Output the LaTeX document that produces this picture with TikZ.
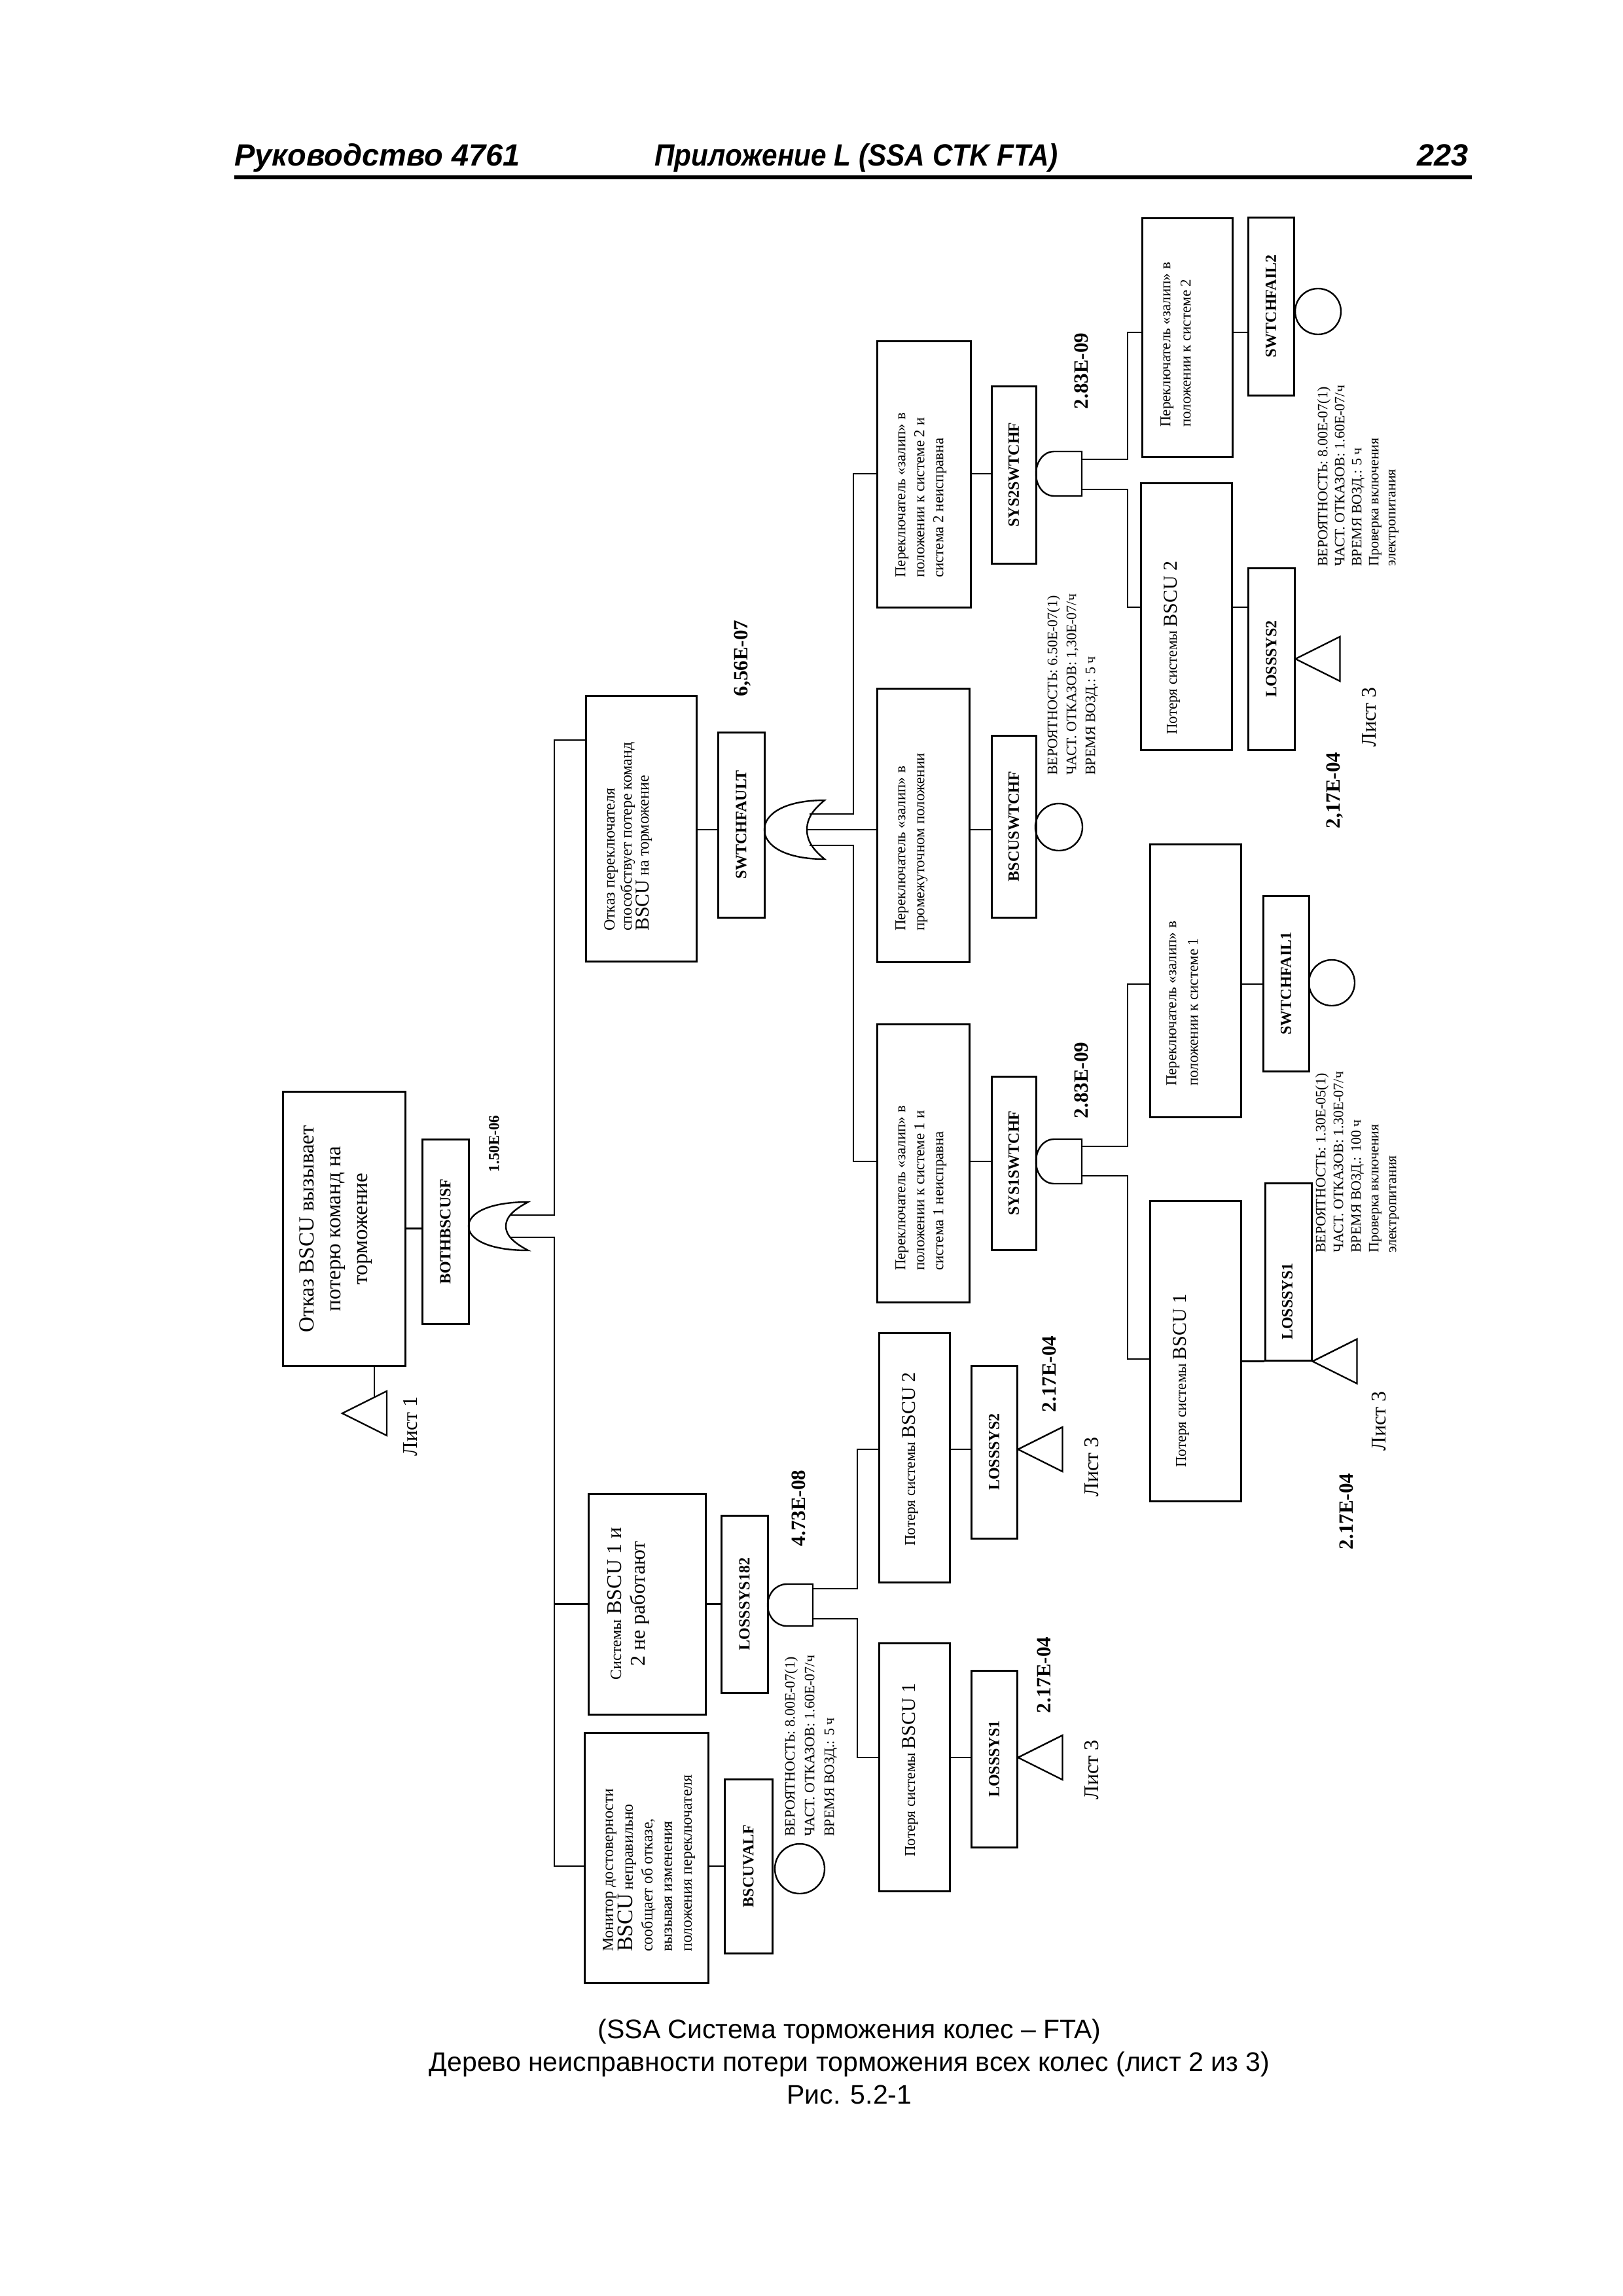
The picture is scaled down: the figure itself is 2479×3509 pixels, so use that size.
\documentclass[tikz,border=0pt]{standalone}
\usepackage{fontspec}
\setmainfont{Liberation Serif}
\newfontfamily\arialf{Liberation Sans}
\newfontfamily\arialn[FakeStretch=0.9]{Liberation Sans}
\newcommand\fsz[2]{\fontsize{#1}{#2}\selectfont}
\newcommand\bx[5]{\node[box,minimum width={(#4-#2)*1pt},minimum height={(#5-#3)*1pt}] (#1) at ({(#2+#4)/2},{(#3+#5)/2}) {};}
\newcommand\orgate[5]{%
 \draw[gt] (#1,#2) .. controls (#1,{#2-0.55*#4}) and ({#1+0.35*#3},{#2-#4}) .. ({#1+#3},{#2-#4})
   .. controls ({#1+#3-0.5*#5},{#2-0.75*#4}) and ({#1+#3-#5},{#2-0.45*#4}) .. ({#1+#3-#5},#2)
   .. controls ({#1+#3-#5},{#2+0.45*#4}) and ({#1+#3-0.5*#5},{#2+0.75*#4}) .. ({#1+#3},{#2+#4})
   .. controls ({#1+0.35*#3},{#2+#4}) and (#1,{#2+0.55*#4}) .. cycle;}
\newcommand\andgate[5]{%
 \draw[gt] (#3,{#2-#5}) -- ({#1+#4},{#2-#5}) arc[start angle=90,end angle=270,x radius=#4pt,y radius=#5pt] -- (#3,{#2+#5}) -- cycle;}
\newcommand\trans[1]{\draw[gt] (#1) -- ++(68,-34) -- ++(0,68) -- cycle;}
\begin{document}
\begin{tikzpicture}[x=1pt,y=-1pt,
  box/.style={draw,line width=3pt,inner sep=0pt,rectangle},
  ln/.style={line width=2.6pt},
  gt/.style={line width=2.4pt},
  lbl/.style={rotate=90,font=\fsz{24}{28}\bfseries,inner sep=0pt},
  txt/.style={rotate=90,font=\fsz{23}{29},align=left,inner sep=0pt,anchor=north west},
  prob/.style={rotate=90,font=\fsz{22}{28},align=left,inner sep=0pt,anchor=north west},
  val/.style={rotate=90,font=\fsz{31}{36}\bfseries,inner sep=0pt},
  sheet/.style={rotate=90,font=\fsz{32}{36},inner sep=0pt},
  evt/.style={draw,circle,line width=2.4pt,inner sep=0pt}]
\fill[white] (0,0) rectangle (2479,3509);
\useasboundingbox (0,0) rectangle (2479,3509);

% header
\node[anchor=base west,inner sep=0pt,font=\arialf\bfseries\itshape\fsz{47}{50}] (h1) at (358,253) {Руководство 4761};
\node[anchor=base west,inner sep=0pt,font=\arialn\bfseries\itshape\fsz{47}{50}] (h2) at (1000,253) {Приложение L (SSA CTK FTA)};
\node[anchor=base east,inner sep=0pt,font=\arialf\bfseries\itshape\fsz{47}{50}] (h3) at (2244,253) {223};
\coordinate (r1) at (358,271); \coordinate (r2) at (2249,271);
\draw[line width=6pt] (r1) -- (r2);

% boxes
\bx{TE}{432}{1668}{619}{2087}
\bx{BOTH}{645}{1741}{716}{2023}
\bx{SF}{895}{1063}{1064}{1469}
\bx{SWF}{1097}{1119}{1168}{1402}
\bx{S2}{1340}{521}{1483}{928}
\bx{S2G}{1515}{590}{1583}{861}
\bx{SW2}{1745}{333}{1883}{698}
\bx{SWF2}{1907}{332}{1977}{604}
\bx{LS2}{1743}{738}{1882}{1146}
\bx{LSY2R}{1907}{868}{1978}{1146}
\bx{SM}{1340}{1052}{1481}{1470}
\bx{BSW}{1515}{1124}{1583}{1402}
\bx{S1}{1340}{1565}{1481}{1990}
\bx{S1G}{1515}{1645}{1583}{1910}
\bx{SW1}{1757}{1290}{1896}{1707}
\bx{SWF1}{1930}{1369}{2000}{1637}
\bx{LS1}{1757}{1835}{1896}{2294}
\bx{LSY1R}{1933}{1808}{2004}{2079}
\bx{SY}{899}{2283}{1078}{2620}
\bx{L182}{1102}{2316}{1173}{2587}
\bx{LB2}{1343}{2037}{1451}{2418}
\bx{LSY2L}{1484}{2087}{1554}{2351}
\bx{LB1}{1343}{2511}{1451}{2890}
\bx{LSY1L}{1484}{2553}{1554}{2823}
\bx{MO}{893}{2648}{1082}{3030}
\bx{BVA}{1107}{2719}{1180}{2985}

% box texts
\node[rotate=90,align=center,inner sep=0pt,font=\fsz{33}{41}] (tTE) at (513,1878) {Отказ BSCU вызывает\\потерю команд на\\торможение};
\node[txt,font=\fsz{24}{26}] (tSF) at (923,1423) {Отказ переключателя\\способствует потере команд\\{\fsz{30}{26}BSCU} на торможение};
\node[txt] (tS2) at (1368,883) {Переключатель «залип» в\\положении к системе 2 и\\система 2 неисправна};
\node[txt] (tSM) at (1368,1423) {Переключатель «залип» в\\промежуточном положении};
\node[txt] (tS1) at (1368,1942) {Переключатель «залип» в\\положении к системе 1 и\\система 1 неисправна};
\node[txt,font=\fsz{23}{31}] (tSW2) at (1773,653) {Переключатель «залип» в\\положении к системе 2};
\node[txt,font=\fsz{23}{33}] (tSW1) at (1782,1660) {Переключатель «залип» в\\положении к системе 1};
\node[rotate=90,anchor=base,inner sep=0pt,font=\fsz{23}{28}] (tLS2) at (1798,990) {Потеря системы {\fsz{30}{30}BSCU 2}};
\node[rotate=90,anchor=base,inner sep=0pt,font=\fsz{23}{28}] (tLS1) at (1812,2110) {Потеря системы {\fsz{30}{30}BSCU 1}};
\node[rotate=90,anchor=base,inner sep=0pt,font=\fsz{23}{28}] (tLB2) at (1398,2230) {Потеря системы {\fsz{30}{30}BSCU 2}};
\node[rotate=90,anchor=base,inner sep=0pt,font=\fsz{23}{28}] (tLB1) at (1398,2705) {Потеря системы {\fsz{30}{30}BSCU 1}};
\node[rotate=90,align=center,inner sep=0pt,font=\fsz{32}{36}] (tSY) at (960,2451) {{\fsz{24}{36}Системы} BSCU 1 и\\2 не работают};
\node[txt,font=\fsz{24}{30}] (tMO) at (921,2983) {Монитор достоверности\\{\fsz{34}{30}BSCU} неправильно\\сообщает об отказе,\\вызывая изменения\\положения переключателя};

% labels
\node[lbl] at (BOTH) {BOTHBSCUSF};
\node[lbl] at (SWF) {SWTCHFAULT};
\node[lbl] at (S2G) {SYS2SWTCHF};
\node[lbl] at (SWF2) {SWTCHFAIL2};
\node[lbl] at (LSY2R) {LOSSSYS2};
\node[lbl] at (BSW) {BSCUSWTCHF};
\node[lbl] at (S1G) {SYS1SWTCHF};
\node[lbl] at (SWF1) {SWTCHFAIL1};
\node[lbl] at (1967,1989) {LOSSSYS1};
\node[lbl] at (L182) {LOSSSYS182};
\node[lbl] at (LSY2L) {LOSSSYS2};
\node[lbl] at (LSY1L) {LOSSSYS1};
\node[lbl] at (BVA) {BSCUVALF};

% values
\node[val,font=\fsz{23}{28}\bfseries] (v1) at (755,1748) {1.50E-06};
\node[val] (v2) at (1135,1006) {6,56E-07};
\node[val] (v3) at (1652,567) {2.83E-09};
\node[val] (v4) at (1652,1651) {2.83E-09};
\node[val] (v5) at (1220,2305) {4.73E-08};
\node[val] (v6) at (1603,2100) {2.17E-04};
\node[val] (v7) at (1595,2560) {2.17E-04};
\node[val] (v8) at (2057,2310) {2.17E-04};
\node[val] (v9) at (2040,1208) {2,17E-04};
\node[sheet] (l1) at (627,2180) {Лист 1};
\node[sheet] (l2) at (1668,2242) {Лист 3};
\node[sheet] (l3) at (1668,2705) {Лист 3};
\node[sheet] (l4) at (2107,2172) {Лист 3};
\node[sheet] (l5) at (2092,1096) {Лист 3};

% probability texts
\node[prob,font=\fsz{22}{30}] (p1) at (1199,2807) {ВЕРОЯТНОСТЬ: 8.00E-07(1)\\ЧАСТ. ОТКАЗОВ: 1.60E-07/ч\\ВРЕМЯ ВОЗД.: 5 ч};
\node[prob,font=\fsz{22}{29}] (p2) at (1600,1185) {ВЕРОЯТНОСТЬ: 6.50E-07(1)\\ЧАСТ. ОТКАЗОВ: 1,30E-07/ч\\ВРЕМЯ ВОЗД.: 5 ч};
\node[prob,font=\fsz{22}{26}] (p3) at (2013,866) {ВЕРОЯТНОСТЬ: 8.00E-07(1)\\ЧАСТ. ОТКАЗОВ: 1.60E-07/ч\\ВРЕМЯ ВОЗД.: 5 ч\\Проверка включения\\электропитания};
\node[prob,font=\fsz{22}{27}] (p4) at (2010,1915) {ВЕРОЯТНОСТЬ: 1.30E-05(1)\\ЧАСТ. ОТКАЗОВ: 1.30E-07/ч\\ВРЕМЯ ВОЗД.: 100 ч\\Проверка включения\\электропитания};

% circles
\node[evt,minimum size=76pt] (c1) at (1222,2856) {};
\node[evt,minimum size=70pt] (c2) at (2014,476) {};
\node[evt,minimum size=72pt] (c3) at (1618,1264) {};
\node[evt,minimum size=70pt] (c4) at (2035,1502) {};

% gates
\orgate{716}{1874}{91}{37}{34}
\orgate{1168}{1268}{92}{45}{27}
\andgate{1583}{724}{1653}{27}{34}
\andgate{1583}{1775}{1653}{27}{34}
\andgate{1173}{2453}{1242}{29}{32}

% coordinates
\coordinate (g1u) at (779,1857); \coordinate (g1d) at (779,1891);
\coordinate (b1t) at (847,1131); \coordinate (b1b) at (847,2852);
\coordinate (g2u) at (1237,1244); \coordinate (g2m) at (1233,1268); \coordinate (g2d) at (1237,1292);
\coordinate (b2t) at (1304,724); \coordinate (b2b) at (1304,1775);
\coordinate (g3u) at (1653,702); \coordinate (g3d) at (1653,748);
\coordinate (b3t) at (1723,508); \coordinate (b3b) at (1723,928);
\coordinate (g4u) at (1653,1752); \coordinate (g4d) at (1653,1797);
\coordinate (b4t) at (1723,1504); \coordinate (b4b) at (1723,2077);
\coordinate (g5u) at (1242,2428); \coordinate (g5d) at (1242,2474);
\coordinate (b5t) at (1310,2215); \coordinate (b5b) at (1310,2686);
\coordinate (t1e) at (572,2136);
\coordinate (t1) at (523,2160);

% connectors
\draw[ln] (TE.east) -- (TE.east -| BOTH.west);
\draw[ln] (g1u) -| (b1t) -- (b1t -| SF.west);
\draw[ln] (g1d) -| (b1b) -- (b1b -| MO.west);
\draw[ln] (SY.west) -- (SY.west -| b1b);
\draw[ln] (t1e |- TE.south) -- (t1e);
\draw[ln] (SF.east |- g2m) -- (SWF.west |- g2m);
\draw[ln] (g2u) -| (b2t) -- (b2t -| S2.west);
\draw[ln] (g2m) -- (g2m -| SM.west);
\draw[ln] (g2d) -| (b2b) -- (b2b -| S1.west);
\draw[ln] (S2.east |- b2t) -- (S2G.west |- b2t);
\draw[ln] (SM.east |- g2m) -- (BSW.west |- g2m);
\draw[ln] (S1.east |- b2b) -- (S1G.west |- b2b);
\draw[ln] (g3u) -| (b3t) -- (b3t -| SW2.west);
\draw[ln] (g3d) -| (b3b) -- (b3b -| LS2.west);
\draw[ln] (SW2.east |- b3t) -- (SWF2.west |- b3t);
\draw[ln] (LS2.east |- b3b) -- (LSY2R.west |- b3b);
\draw[ln] (g4u) -| (b4t) -- (b4t -| SW1.west);
\draw[ln] (g4d) -| (b4b) -- (b4b -| LS1.west);
\draw[ln] (SW1.east |- b4t) -- (SWF1.west |- b4t);
\draw[ln] (LS1.east |- LSY1R.south) -- (LSY1R.south west);
\draw[ln] (SY.east) -- (SY.east -| L182.west);
\draw[ln] (g5u) -| (b5t) -- (b5t -| LB2.west);
\draw[ln] (g5d) -| (b5b) -- (b5b -| LB1.west);
\draw[ln] (LB2.east |- b5t) -- (LSY2L.west |- b5t);
\draw[ln] (LB1.east |- b5b) -- (LSY1L.west |- b5b);
\draw[ln] (MO.east |- b1b) -- (BVA.west |- b1b);

% transfer triangles
\trans{t1}
\trans{LSY2L.east |- b5t}
\trans{LSY1L.east |- b5b}
\trans{LSY1R.south east}
\trans{LSY2R.east}

% caption
\node[anchor=north,align=center,inner sep=0pt,font=\arialf\fsz{41}{50}] (cap) at (1298,3086) {(SSA Система торможения колес – FTA)\\Дерево неисправности потери торможения всех колес (лист 2 из 3)\\Рис. 5.2-1};
\end{tikzpicture}
\end{document}
